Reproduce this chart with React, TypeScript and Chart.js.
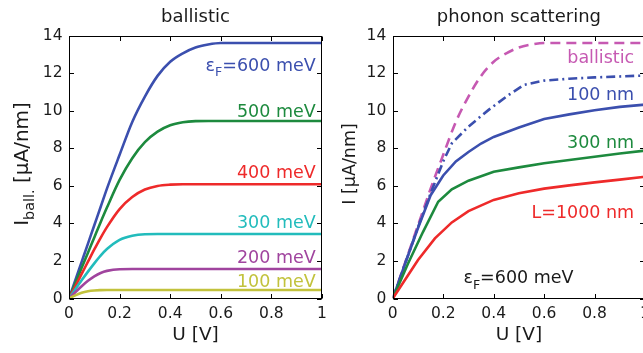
import React, { useEffect, useRef } from "react";
import { Chart, registerables } from "chart.js";

Chart.register(...registerables);

// ---------- data ----------
const X_TICKS = [0, 0.2, 0.4, 0.6, 0.8, 1];
const Y_TICKS = [0, 2, 4, 6, 8, 10, 12, 14];

// left panel: ballistic current for several Fermi energies
const U_GRID = [0, 0.025, 0.05, 0.075, 0.1, 0.125, 0.15, 0.2, 0.25, 0.3, 0.35, 0.4, 0.45, 0.5, 0.55, 0.6, 0.7, 0.8, 0.9, 1.0];
const I_600 = [0, 0.98, 1.95, 2.92, 3.9, 4.87, 5.85, 7.65, 9.4, 10.75, 11.85, 12.6, 13.05, 13.36, 13.52, 13.6, 13.6, 13.6, 13.6, 13.6];
const I_500 = [0, 0.81, 1.63, 2.44, 3.25, 4.06, 4.84, 6.31, 7.47, 8.32, 8.88, 9.22, 9.38, 9.44, 9.45, 9.45, 9.45, 9.45, 9.45, 9.45];
const I_400 = [0, 0.65, 1.31, 1.96, 2.61, 3.23, 3.8, 4.76, 5.4, 5.8, 5.99, 6.06, 6.08, 6.08, 6.08, 6.08, 6.08, 6.08, 6.08, 6.08];
const I_300 = [0, 0.49, 0.97, 1.43, 1.87, 2.28, 2.63, 3.12, 3.34, 3.42, 3.43, 3.43, 3.43, 3.43, 3.43, 3.43, 3.43, 3.43, 3.43, 3.43];
const I_200 = [0, 0.33, 0.65, 0.94, 1.18, 1.36, 1.47, 1.56, 1.57, 1.57, 1.57, 1.57, 1.57, 1.57, 1.57, 1.57, 1.57, 1.57, 1.57, 1.57];
const I_100 = [0, 0.17, 0.31, 0.39, 0.43, 0.445, 0.45, 0.45, 0.45, 0.45, 0.45, 0.45, 0.45, 0.45, 0.45, 0.45, 0.45, 0.45, 0.45, 0.45];

// right panel: phonon scattering, eF = 600 meV
const U_DD = [0, 0.05, 0.1, 0.15, 0.2, 0.234, 0.3, 0.38, 0.46, 0.52, 0.6, 0.7, 0.8, 0.9, 1.0];
const I_100NM_DD = [0, 1.9, 3.8, 5.6, 7.3, 8.26, 9.15, 10.04, 10.84, 11.37, 11.6, 11.7, 11.77, 11.82, 11.87];
const U_100 = [0, 0.05, 0.1, 0.15, 0.2, 0.25, 0.3, 0.35, 0.4, 0.5, 0.6, 0.7, 0.8, 0.9, 1.0];
const I_100NM = [0, 1.9, 3.75, 5.5, 6.55, 7.3, 7.8, 8.25, 8.6, 9.1, 9.55, 9.8, 10.02, 10.2, 10.32];
const U_300 = [0, 0.06, 0.12, 0.18, 0.234, 0.3, 0.4, 0.5, 0.6, 0.7, 0.8, 0.9, 1.0];
const I_300NM = [0, 1.85, 3.55, 5.15, 5.81, 6.27, 6.75, 6.98, 7.2, 7.37, 7.55, 7.72, 7.87];
const U_1000 = [0, 0.1, 0.167, 0.234, 0.3, 0.4, 0.5, 0.6, 0.7, 0.8, 0.9, 1.0];
const I_1000NM = [0, 2.05, 3.2, 4.05, 4.65, 5.25, 5.6, 5.85, 6.02, 6.18, 6.33, 6.48];

// ---------- style ----------
const FONT = "'DejaVu Sans', 'Liberation Sans', sans-serif";
const INK = "#1a1a1a";
const BLUE = "#3b4fae";
const GREEN = "#1d8a3e";
const RED = "#ee2a2a";
const CYAN = "#22bcbc";
const PURPLE = "#a0449e";
const OLIVE = "#c2c23c";
const PINK = "#c659b2";

type Part = { t: string; sub?: boolean };
type Note = { parts: Part[]; x: number; y: number; color: string; align: "left" | "right" | "center"; size: number };

const pts = (xs: number[], ys: number[]) => xs.map((x, i) => ({ x, y: ys[i] }));

function partWidth(ctx: CanvasRenderingContext2D, parts: Part[], size: number) {
  let w = 0;
  for (const p of parts) {
    ctx.font = `${p.sub ? size * 0.72 : size}px ${FONT}`;
    w += ctx.measureText(p.t).width;
  }
  return w;
}

function drawRich(ctx: CanvasRenderingContext2D, parts: Part[], x: number, y: number, align: string, size: number, color: string) {
  const w = partWidth(ctx, parts, size);
  let cx = align === "right" ? x - w : align === "center" ? x - w / 2 : x;
  ctx.fillStyle = color;
  ctx.textBaseline = "alphabetic";
  ctx.textAlign = "left";
  for (const p of parts) {
    const s = p.sub ? size * 0.72 : size;
    ctx.font = `${s}px ${FONT}`;
    ctx.fillText(p.t, cx, p.sub ? y + size * 0.3 : y);
    cx += ctx.measureText(p.t).width;
  }
}

type PanelCfg = {
  title: string;
  yTitle: Part[];
  yTitleSize: number;
  yTitleX: number;
  notes: Note[];
};

function panelPlugin(cfg: PanelCfg) {
  return {
    id: "panelDeco",
    afterDraw(chart: any) {
      const { ctx, chartArea: a } = chart;
      const xs = chart.scales.x;
      const ys = chart.scales.y;
      ctx.save();
      ctx.strokeStyle = "#000";
      ctx.lineWidth = 1;
      const L = Math.round(a.left) + 0.5;
      const R = Math.round(a.right) - 0.5;
      const T = Math.round(a.top) + 0.5;
      const B = Math.round(a.bottom) - 0.5;
      ctx.strokeRect(L, T, R - L, B - T);
      const tl = 4.5;
      ctx.beginPath();
      for (const v of X_TICKS) {
        const px = Math.round(xs.getPixelForValue(v)) + 0.5;
        ctx.moveTo(px, B);
        ctx.lineTo(px, B - tl);
        ctx.moveTo(px, T);
        ctx.lineTo(px, T + tl);
      }
      for (const v of Y_TICKS) {
        const py = Math.round(ys.getPixelForValue(v)) + 0.5;
        ctx.moveTo(L, py);
        ctx.lineTo(L + tl, py);
        ctx.moveTo(R, py);
        ctx.lineTo(R - tl, py);
      }
      ctx.stroke();

      const cxm = (a.left + a.right) / 2;
      drawRich(ctx, [{ t: cfg.title }], cxm, 21.5, "center", 18, INK);
      drawRich(ctx, [{ t: "U [V]" }], cxm, 339.5, "center", 18.5, INK);
      ctx.save();
      ctx.translate(cfg.yTitleX, (a.top + a.bottom) / 2 - 3);
      ctx.rotate(-Math.PI / 2);
      drawRich(ctx, cfg.yTitle, 0, 0, "center", cfg.yTitleSize, INK);
      ctx.restore();

      for (const n of cfg.notes) {
        drawRich(ctx, n.parts, xs.getPixelForValue(n.x), ys.getPixelForValue(n.y), n.align, n.size, n.color);
      }
      ctx.restore();
    },
  };
}

function makeOptions(yWidth: number, rightPad: number) {
  const tickFont = { family: FONT, size: 15.5 };
  return {
    responsive: false,
    animation: false as const,
    devicePixelRatio: 1,
    layout: { padding: { left: 0, top: 35.5, right: rightPad, bottom: 0 } },
    plugins: { legend: { display: false }, title: { display: false }, tooltip: { enabled: false } },
    elements: { point: { radius: 0 } },
    scales: {
      x: {
        type: "linear" as const,
        min: 0,
        max: 1,
        grid: { display: false, drawTicks: false },
        border: { display: false },
        ticks: {
          stepSize: 0.2,
          autoSkip: false,
          maxRotation: 0,
          padding: 6,
          color: INK,
          font: tickFont,
          callback: (v: any) => String(Math.round(Number(v) * 10) / 10),
        },
        afterFit: (s: any) => {
          s.height = 353 - 298.5;
          s.paddingLeft = 0;
          s.paddingRight = 0;
        },
      },
      y: {
        type: "linear" as const,
        min: 0,
        max: 14,
        grid: { display: false, drawTicks: false },
        border: { display: false },
        ticks: { stepSize: 2, autoSkip: false, padding: 6.5, color: INK, font: tickFont },
        afterFit: (s: any) => {
          s.width = yWidth;
          s.paddingTop = 0;
          s.paddingBottom = 0;
        },
      },
    },
  };
}

const line = (data: any[], color: string, extra: any = {}) => ({
  data,
  borderColor: color,
  backgroundColor: color,
  borderWidth: 2.6,
  pointRadius: 0,
  fill: false,
  ...extra,
});

export default function App() {
  const leftRef = useRef<HTMLCanvasElement>(null);
  const rightRef = useRef<HTMLCanvasElement>(null);

  useEffect(() => {
    const smooth = { cubicInterpolationMode: "monotone" };
    const leftChart = new Chart(leftRef.current as HTMLCanvasElement, {
      type: "line",
      data: {
        datasets: [
          line(pts(U_GRID, I_100), OLIVE, smooth),
          line(pts(U_GRID, I_200), PURPLE, smooth),
          line(pts(U_GRID, I_300), CYAN, smooth),
          line(pts(U_GRID, I_400), RED, smooth),
          line(pts(U_GRID, I_500), GREEN, smooth),
          line(pts(U_GRID, I_600), BLUE, smooth),
        ],
      },
      options: makeOptions(69, 8) as any,
      plugins: [
        panelPlugin({
          title: "ballistic",
          yTitle: [{ t: "I" }, { t: "ball.", sub: true }, { t: " [μA/nm]" }],
          yTitleSize: 20,
          yTitleX: 28,
          notes: [
            { parts: [{ t: "ε" }, { t: "F", sub: true }, { t: "=600 meV" }], x: 0.975, y: 12.11, color: BLUE, align: "right", size: 17.5 },
            { parts: [{ t: "500 meV" }], x: 0.975, y: 9.68, color: GREEN, align: "right", size: 17.5 },
            { parts: [{ t: "400 meV" }], x: 0.975, y: 6.4, color: RED, align: "right", size: 17.5 },
            { parts: [{ t: "300 meV" }], x: 0.975, y: 3.74, color: CYAN, align: "right", size: 17.5 },
            { parts: [{ t: "200 meV" }], x: 0.975, y: 1.87, color: PURPLE, align: "right", size: 17.5 },
            { parts: [{ t: "100 meV" }], x: 0.975, y: 0.63, color: OLIVE, align: "right", size: 17.5 },
          ],
        }),
      ],
    });

    const rightChart = new Chart(rightRef.current as HTMLCanvasElement, {
      type: "line",
      data: {
        datasets: [
          line(pts(U_1000, I_1000NM), RED),
          line(pts(U_300, I_300NM), GREEN),
          line(pts(U_100, I_100NM), BLUE),
          line(pts(U_DD, I_100NM_DD), BLUE, { borderDash: [9, 4, 2, 4] }),
          line(pts(U_GRID, I_600), PINK, { borderDash: [10, 6], cubicInterpolationMode: "monotone" }),
        ],
      },
      options: makeOptions(62.8, 8) as any,
      plugins: [
        panelPlugin({
          title: "phonon scattering",
          yTitle: [{ t: "I [μA/nm]" }],
          yTitleSize: 17.5,
          yTitleX: 25,
          notes: [
            { parts: [{ t: "ballistic" }], x: 0.957, y: 12.52, color: PINK, align: "right", size: 17.5 },
            { parts: [{ t: "100 nm" }], x: 0.957, y: 10.57, color: BLUE, align: "right", size: 17.5 },
            { parts: [{ t: "300 nm" }], x: 0.957, y: 8.0, color: GREEN, align: "right", size: 17.5 },
            { parts: [{ t: "L=1000 nm" }], x: 0.957, y: 4.27, color: RED, align: "right", size: 17.5 },
            { parts: [{ t: "ε" }, { t: "F", sub: true }, { t: "=600 meV" }], x: 0.28, y: 0.8, color: INK, align: "left", size: 17.5 },
          ],
        }),
      ],
    });

    return () => {
      leftChart.destroy();
      rightChart.destroy();
    };
  }, []);

  return (
    <div style={{ position: "fixed", left: 0, top: 0, width: 643, height: 353, overflow: "hidden", background: "#fff" }}>
      <canvas ref={leftRef} width={330} height={353} style={{ position: "absolute", left: 0, top: 0, width: 330, height: 353 }} />
      <canvas ref={rightRef} width={323} height={353} style={{ position: "absolute", left: 330, top: 0, width: 323, height: 353 }} />
    </div>
  );
}
